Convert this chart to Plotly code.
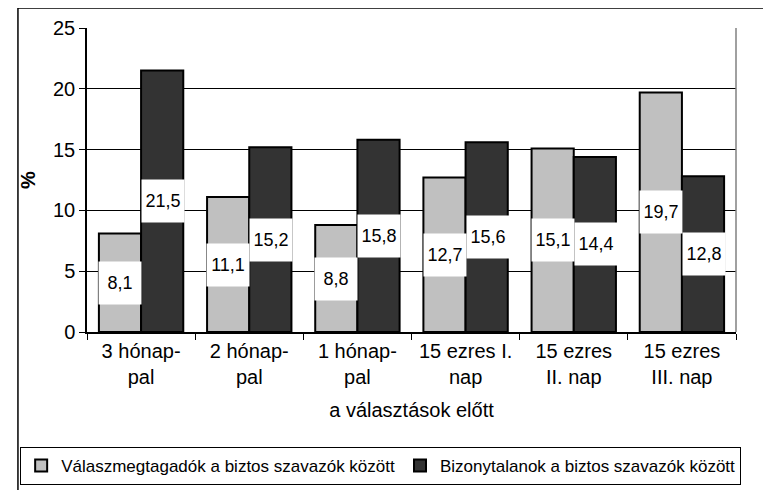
import plotly.graph_objects as go

categories = ["3 hónap-<br>pal", "2 hónap-<br>pal", "1 hónap-<br>pal",
              "15 ezres I.<br>nap", "15 ezres<br>II. nap", "15 ezres<br>III. nap"]
refusers = [8.1, 11.1, 8.8, 12.7, 15.1, 19.7]
undecided = [21.5, 15.2, 15.8, 15.6, 14.4, 12.8]
name_refusers = "Válaszmegtagadók a biztos szavazók között"
name_undecided = "Bizonytalanok a biztos szavazók között"
y_ticks = [0, 5, 10, 15, 20, 25]

FONT = "Arial, Liberation Sans, sans-serif"

fig = go.Figure()
fig.add_trace(go.Bar(x=categories, y=refusers, name=name_refusers,
                     marker=dict(color="#C0C0C0", line=dict(color="black", width=2))))
fig.add_trace(go.Bar(x=categories, y=undecided, name=name_undecided,
                     marker=dict(color="#333333", line=dict(color="black", width=2))))

def fmt(v):
    return f"{v:.1f}".replace(".", ",")

for cat, v in zip(categories, refusers):
    fig.add_annotation(x=cat, y=v / 2, xref="x", yref="y", xshift=-21, text=fmt(v),
                       showarrow=False, bgcolor="white", width=40, height=40,
                       font=dict(family=FONT, size=18, color="black"))
for cat, v in zip(categories, undecided):
    fig.add_annotation(x=cat, y=v / 2, xref="x", yref="y", xshift=22, text=fmt(v),
                       showarrow=False, bgcolor="white", width=40, height=40,
                       font=dict(family=FONT, size=18, color="black"))

# outer chart border (top and left edges visible)
fig.add_shape(type="line", xref="paper", yref="paper", x0=-0.1064, x1=1.1, y0=1.0658, y1=1.0658,
              line=dict(color="black", width=1.5))
fig.add_shape(type="line", xref="paper", yref="paper", x0=-0.1064, x1=-0.1064, y0=1.0658, y1=-0.6,
              line=dict(color="black", width=1.5))
# plot area right edge
fig.add_shape(type="line", xref="paper", yref="paper", x0=1, x1=1, y0=0, y1=1,
              line=dict(color="#808080", width=1.5))

fig.update_layout(
    width=771, height=490,
    margin=dict(l=70, r=43, t=20, b=166),
    paper_bgcolor="white", plot_bgcolor="white",
    barmode="group", bargap=0.22, bargroupgap=0,
    font=dict(family=FONT, size=19, color="black"),
    showlegend=True,
    legend=dict(orientation="h", x=-0.103, y=-0.378, xanchor="left", yanchor="top",
                bordercolor="black", borderwidth=1, bgcolor="white",
                font=dict(family=FONT, size=17), itemwidth=30,
                tracegroupgap=0),
    xaxis=dict(showline=True, linecolor="black", linewidth=1.5, ticks="outside",
               tickson="boundaries", ticklen=6, tickcolor="black", automargin=False,
               tickfont=dict(size=20),
               title=dict(text="a választások előtt", font=dict(size=20), standoff=16)),
    yaxis=dict(range=[0, 25], tickvals=y_ticks, showgrid=True, gridcolor="black", gridwidth=1,
               showline=True, linecolor="black", linewidth=1.5, ticks="outside", ticklen=6,
               tickcolor="black", tickfont=dict(size=20), zeroline=False, automargin=False,
               title=dict(text="<b>%</b>", font=dict(size=20), standoff=12)),
)

fig.write_html("out.html")
